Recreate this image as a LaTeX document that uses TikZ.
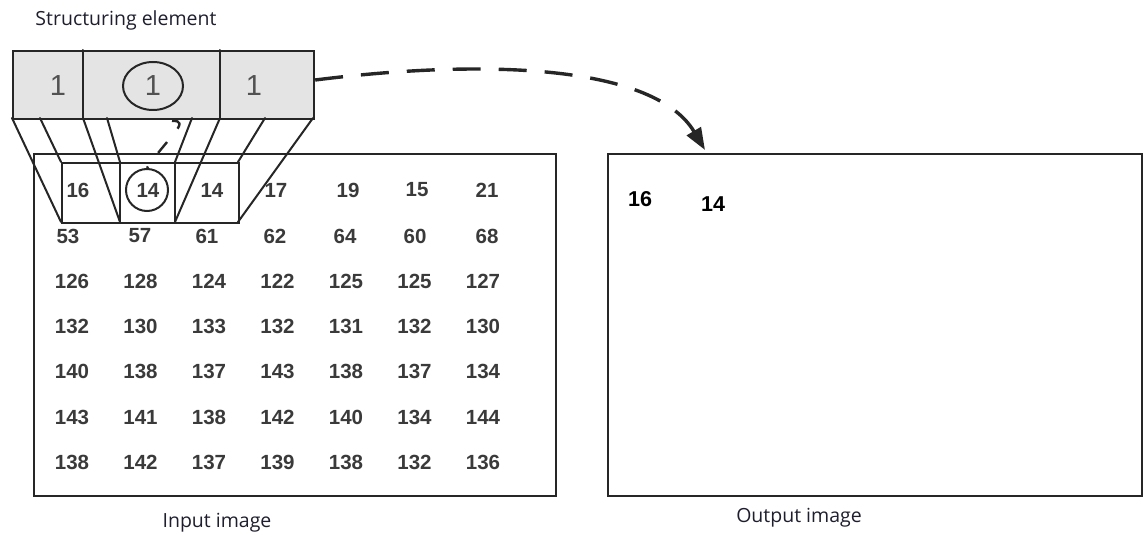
\documentclass[tikz,border=0pt]{standalone}
\usepackage{fontspec}
\setmainfont{Liberation Sans}
\newfontfamily\labelfont{Open Sans}
\usetikzlibrary{arrows.meta,shapes.geometric}

\definecolor{inkline}{HTML}{262626}
\definecolor{pixgray}{HTML}{3A3A3A}
\definecolor{sefill}{HTML}{E4E4E4}
\definecolor{labelink}{HTML}{1E1E2E}

\begin{document}
\begin{tikzpicture}[x=1pt,y=-1pt,
  frame/.style={draw=inkline,line width=2.2pt,inner sep=0pt,anchor=north west},
  edge/.style={draw=inkline,line width=2pt,line cap=round},
  pix/.style={font=\fontsize{20.5}{22}\selectfont\bfseries,text=pixgray,inner sep=0pt},
  outpix/.style={font=\fontsize{21.5}{23}\selectfont\bfseries,text=black,inner sep=0pt},
  seval/.style={font=\fontsize{29}{31}\selectfont,text=black!68,inner sep=0pt},
  caption/.style={font=\labelfont\fontsize{19.5}{22}\selectfont,text=labelink,inner sep=0pt},
]
\useasboundingbox (0,0) rectangle (1144,537);

% image frames
\node[frame,minimum width=522pt,minimum height=342pt] (input) at (33,153) {};
\node[frame,minimum width=534pt,minimum height=342pt] (output) at (607,153) {};

% structuring element (1 x 3)
\node[frame,fill=sefill,minimum width=301pt,minimum height=68pt] (se) at (12,50) {};
\draw[edge] (83,50) -- (83,118);
\draw[edge] (220,50) -- (220,118);
\node[seval] (se1) at (58,86) {1};
\node[seval] (se2) at (153,86) {1};
\node[seval] (se3) at (254,86) {1};
\node[draw=inkline,line width=2pt,ellipse,minimum width=60pt,minimum height=48pt,inner sep=0pt] (seorigin) at (153,86) {};

% window laid on the input image
\node[frame,minimum width=177pt,minimum height=60pt] (win) at (61,162) {};
\draw[edge] (120,162) -- (120,222);
\draw[edge] (175,162) -- (175,222);

% projection of the structuring element onto the window
\draw[edge] (12,118) -- (61,222);
\draw[edge] (40,118) -- (61,162);
\draw[edge] (83,118) -- (120,222);
\draw[edge] (107,118) -- (120,162);
\draw[edge] (192,118) -- (175,162);
\draw[edge] (220,118) -- (175,222);
\draw[edge] (265,118) -- (238,162);
\draw[edge] (313,118) -- (238,222);

% input pixel values
\foreach \v/\x [count=\i] in {16/78,14/148,14/212,17/276,19/348,15/417,21/487}
  \node[pix] (r1c\i) at (\x,190) {\v};
\foreach \v/\x [count=\i] in {53/68,57/140,61/207,62/275,64/345,60/415,68/487}
  \node[pix] (r2c\i) at (\x,236) {\v};
\foreach \row/\y [count=\r from 3] in {
    {126,128,124,122,125,125,127}/281,
    {132,130,133,132,131,132,130}/326,
    {140,138,137,143,138,137,134}/371,
    {143,141,138,142,140,134,144}/417,
    {138,142,137,139,138,132,136}/462}
  \foreach \v/\x [count=\i] in \row
    \node[pix] (r\r c\i) at ({72+68.5*(\i-1)},\y) {\v};

% origin pixel under the window
\node[draw=inkline,line width=2pt,circle,minimum size=42pt,inner sep=0pt] (wincenter) at (147,190) {};

% origin of the element mapped onto the origin pixel
\draw[draw=inkline,line width=2.4pt,dash pattern=on 14pt off 17pt]
  (172,121) .. controls (192,120) and (168,137) .. (wincenter.north);

% output pixel values
\node[outpix] (o1) at (640,199) {16};
\node[outpix] (o2) at (713,204) {14};

% result written to the output image
\coordinate (dst) at (705,150);
\draw[draw=inkline,line width=3.4pt,dash pattern=on 28pt off 18pt,
      -{Triangle[length=22pt,width=16pt]}]
  (se.east |- 0,80) .. controls (490,58) and (655,66) .. (dst);

% captions
\node[caption] (secap) at (126,20) {Structuring element};
\node[caption] (incap) at (217,523) {Input image};
\node[caption] (outcap) at (799,518) {Output image};
\end{tikzpicture}
\end{document}
